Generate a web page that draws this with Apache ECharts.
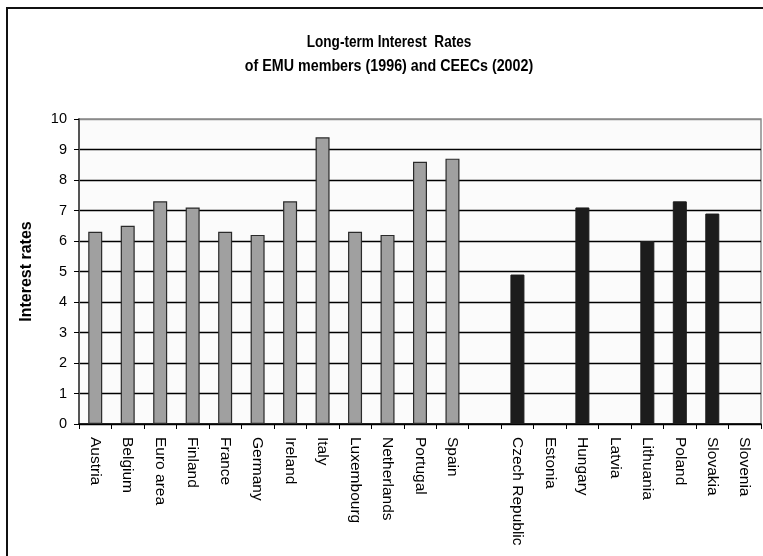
<!DOCTYPE html>
<html>
<head>
<meta charset="utf-8">
<script src="https://cdn.jsdelivr.net/npm/echarts@6/dist/echarts.min.js"></script>
<style>
  html, body { margin: 0; padding: 0; background: #ffffff; }
  #chart { width: 763px; height: 556px; }
</style>
</head>
<body>
<div id="chart"></div>
<script>
// Countries along the x axis; the empty entry separates the two groups
const categories = ['Austria', 'Belgium', 'Euro area', 'Finland', 'France', 'Germany', 'Ireland',
  'Italy', 'Luxembourg', 'Netherlands', 'Portugal', 'Spain', '',
  'Czech Republic', 'Estonia', 'Hungary', 'Latvia', 'Lithuania', 'Poland', 'Slovakia', 'Slovenia'];

// EMU members, 1996
const emuRates = [6.3, 6.5, 7.3, 7.1, 6.3, 6.2, 7.3, 9.4, 6.3, 6.2, 8.6, 8.7,
  null, null, null, null, null, null, null, null, null];

// Central and Eastern European candidate countries, 2002
const ceecRates = [null, null, null, null, null, null, null, null, null, null, null, null,
  null, 4.9, null, 7.1, null, 6.0, 7.3, 6.9, null];

const yTicks = [0, 1, 2, 3, 4, 5, 6, 7, 8, 9, 10];

const titleLines = ['Long-term Interest  Rates', 'of EMU members (1996) and CEECs (2002)'];

const FONT = '"Liberation Sans", Arial, sans-serif';

const chart = echarts.init(document.getElementById('chart'), null, { renderer: 'canvas' });

// gridline colours: black inside, grey on the top edge
const gridColors = yTicks.map((v, i) => (i === yTicks.length - 1 ? '#8a8a8a' : '#000000'));

// two-line heading, slightly tall and narrow
const titleText = (text, y, size) => ({
  type: 'text',
  x: 389,
  y: y,
  scaleY: 1.18,
  silent: true,
  style: {
    text: text,
    fill: '#000',
    font: 'bold ' + size + 'px ' + FONT,
    textAlign: 'center',
    textVerticalAlign: 'middle'
  }
});

chart.setOption({
  animation: false,
  backgroundColor: '#ffffff',
  graphic: [{
    type: 'rect',
    shape: { x: 7, y: 8, width: 800, height: 600 },
    style: { fill: null, stroke: '#111', lineWidth: 2 },
    silent: true,
    z: -1
  },
  titleText(titleLines[0], 43, 13.6),
  titleText(titleLines[1], 66, 14.3)],
  grid: {
    left: 79,
    right: 2,
    top: 119,
    bottom: 132,
    show: true,
    backgroundColor: '#fbfbfb',
    borderColor: '#8a8a8a',
    borderWidth: 1.5
  },
  xAxis: {
    type: 'category',
    data: categories,
    boundaryGap: true,
    axisLine: { lineStyle: { color: '#000', width: 1.5 } },
    axisTick: { show: true, length: 5, alignWithLabel: false, interval: 0, lineStyle: { color: '#000' } },
    axisLabel: {
      interval: 0,
      rotate: -90,
      margin: 13,
      fontFamily: FONT,
      fontSize: 15.5,
      color: '#000'
    },
    splitLine: { show: false }
  },
  yAxis: {
    type: 'value',
    min: 0,
    max: 10,
    interval: 1,
    name: 'Interest rates',
    nameLocation: 'middle',
    nameGap: 44,
    nameTextStyle: {
      fontFamily: FONT,
      fontSize: 16,
      fontWeight: 'bold',
      color: '#000'
    },
    axisLine: { show: true, lineStyle: { color: '#555', width: 2 } },
    axisTick: { show: true, length: 5, inside: false, lineStyle: { color: '#000' } },
    axisLabel: {
      margin: 12,
      fontFamily: FONT,
      fontSize: 14.5,
      color: '#000'
    },
    splitLine: { show: true, lineStyle: { color: gridColors, width: 1.3 } }
  },
  series: [{
    name: 'EMU members (1996)',
    type: 'bar',
    data: emuRates,
    barWidth: 14,
    barGap: '-100%',
    itemStyle: { color: '#a0a0a0', borderColor: '#2a2a2a', borderWidth: 1.2 }
  }, {
    name: 'CEECs (2002)',
    type: 'bar',
    data: ceecRates,
    barWidth: 14,
    barGap: '-100%',
    itemStyle: { color: '#1c1c1c', borderColor: '#1c1c1c', borderWidth: 1 }
  }]
});
</script>
</body>
</html>
